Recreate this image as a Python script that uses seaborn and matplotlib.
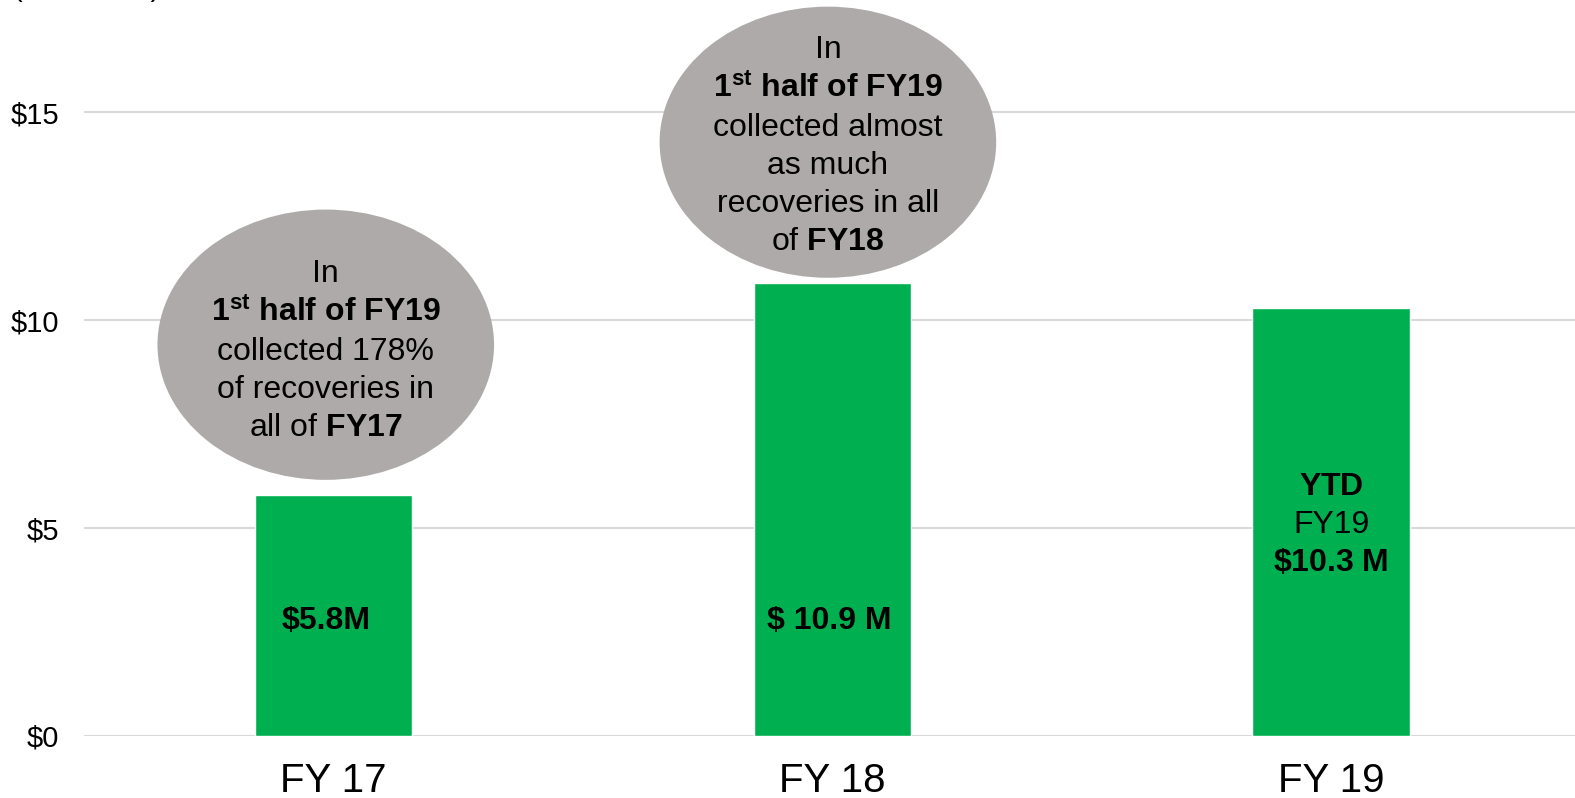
import matplotlib
matplotlib.use("Agg")
import matplotlib.pyplot as plt
from matplotlib.patches import Ellipse
import seaborn as sns
import pandas as pd

# data
years = ["FY 17", "FY 18", "FY 19"]
recoveries = [5.8, 10.9, 10.3]
bar_labels = ["$5.8M", "$ 10.9 M", r"$\mathbf{YTD}$" + "\nFY19\n" + r"$\mathbf{\$10.3\ M}$"]
yticks = [0, 5, 10, 15]
ytick_labels = ["$0", "$5", "$10", "$15"]
note_fy17 = ("In\n" + r"$\mathbf{1^{st}\ half\ of\ FY19}$" + "\ncollected 178%\nof recoveries in\n"
             + r"all of $\mathbf{FY17}$")
note_fy18 = ("In\n" + r"$\mathbf{1^{st}\ half\ of\ FY19}$" + "\ncollected almost\nas much\nrecoveries in all\n"
             + r"of $\mathbf{FY18}$")

sns.set_style("white")
plt.rcParams["font.family"] = ["Liberation Sans", "DejaVu Sans"]
plt.rcParams["mathtext.fontset"] = "custom"
plt.rcParams["mathtext.rm"] = "Liberation Sans"
plt.rcParams["mathtext.it"] = "Liberation Sans:italic"
plt.rcParams["mathtext.bf"] = "Liberation Sans:bold"
plt.rcParams["text.color"] = "black"
plt.rcParams["xtick.color"] = "black"
plt.rcParams["ytick.color"] = "black"

df = pd.DataFrame({"year": years, "value": recoveries})

fig = plt.figure(figsize=(15.75, 7.98), dpi=100)
ax = fig.add_axes([0.0536, 0.0777, 0.9498, 0.9223])

sns.barplot(data=df, x="year", y="value", color="#00B050", saturation=1,
            width=0.315, ax=ax, zorder=3)

ax.set_xlim(-0.5, 2.5)
ax.set_ylim(0, 17.7)
ax.set_yticks(yticks)
ax.set_yticklabels(ytick_labels)
ax.yaxis.grid(True, color="#D9D9D9", linewidth=1.5, zorder=0)
ax.set_axisbelow(True)
for s in ax.spines.values():
    s.set_visible(False)
ax.tick_params(axis="y", length=0, pad=18, labelsize=21)
ax.tick_params(axis="x", length=0, pad=19, labelsize=29)
ax.set_xlabel("")
ax.set_ylabel("")

# labels inside bars
ax.text(0 - 0.016, 2.77, bar_labels[0], ha="center", va="center", fontsize=23, fontweight="bold", zorder=5)
ax.text(1 - 0.007, 2.77, bar_labels[1], ha="center", va="center", fontsize=23, fontweight="bold", zorder=5)
ax.text(2, 5.07, bar_labels[2], ha="center", va="center", fontsize=23, linespacing=1.35, zorder=5)

# grey callouts
ax.add_patch(Ellipse((0 - 0.016, 9.41), 0.675, 6.5, facecolor="#ADAAA9", edgecolor="none", zorder=4))
ax.text(0 - 0.016, 9.25, note_fy17, ha="center", va="center", fontsize=23, linespacing=1.35, zorder=5)
ax.add_patch(Ellipse((1 - 0.009, 14.28), 0.675, 6.52, facecolor="#ADAAA9", edgecolor="none",
                     zorder=4, clip_on=False))
ax.text(1 - 0.009, 14.18, note_fy18, ha="center", va="center", fontsize=23, linespacing=1.35, zorder=5)

fig.text(13 / 1575, 1 + 4 / 798, "(in millions)", ha="left", va="baseline", fontsize=21)

fig.savefig("out.png", dpi=100)
